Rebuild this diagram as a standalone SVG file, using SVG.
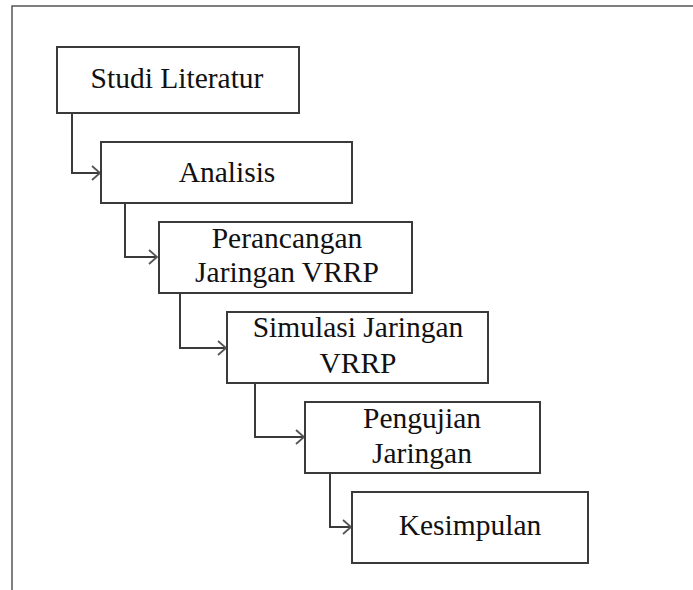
<svg xmlns="http://www.w3.org/2000/svg" width="693" height="590" viewBox="0 0 693 590">
<defs>
<style>
.box{fill:#fff;stroke:#3a3a3a;stroke-width:2}
.lbl{font-family:"Liberation Serif","Times New Roman",serif;font-size:29.5px;fill:#111;text-anchor:middle}
.con{fill:none;stroke:#3a3a3a;stroke-width:2}
.frame{fill:none;stroke:#555;stroke-width:1.5}
</style>
<marker id="arr" markerUnits="userSpaceOnUse" markerWidth="12" markerHeight="18" refX="9" refY="8" orient="auto">
<path d="M1,1 L9,8 L1,15" fill="none" stroke="#555" stroke-width="1.8"/>
</marker>
</defs>
<rect width="693" height="590" fill="#fff"/>
<path class="frame" d="M12,590 V6 H693"/>
<g id="connectors">
<path class="con" d="M72,114 V173 H100" marker-end="url(#arr)"/>
<path class="con" d="M125,203 V257 H157" marker-end="url(#arr)"/>
<path class="con" d="M180,293 V348 H226" marker-end="url(#arr)"/>
<path class="con" d="M255,383 V437 H304" marker-end="url(#arr)"/>
<path class="con" d="M330,473 V527 H351" marker-end="url(#arr)"/>
</g>
<g id="studi-literatur">
<rect class="box" x="57" y="47" width="242" height="66"/>
<text class="lbl" x="177" y="88">Studi Literatur</text>
</g>
<g id="analisis">
<rect class="box" x="101" y="142" width="251" height="61"/>
<text class="lbl" x="227" y="182">Analisis</text>
</g>
<g id="perancangan">
<rect class="box" x="159" y="222" width="253" height="71"/>
<text class="lbl" x="287" y="248">Perancangan</text>
<text class="lbl" x="287" y="282">Jaringan VRRP</text>
</g>
<g id="simulasi">
<rect class="box" x="227" y="312" width="261" height="71"/>
<text class="lbl" x="358" y="337">Simulasi Jaringan</text>
<text class="lbl" x="358" y="373">VRRP</text>
</g>
<g id="pengujian">
<rect class="box" x="305" y="402" width="235" height="71"/>
<text class="lbl" x="422" y="428">Pengujian</text>
<text class="lbl" x="422" y="463">Jaringan</text>
</g>
<g id="kesimpulan">
<rect class="box" x="352" y="492" width="236" height="71"/>
<text class="lbl" x="470" y="535">Kesimpulan</text>
</g>
</svg>
